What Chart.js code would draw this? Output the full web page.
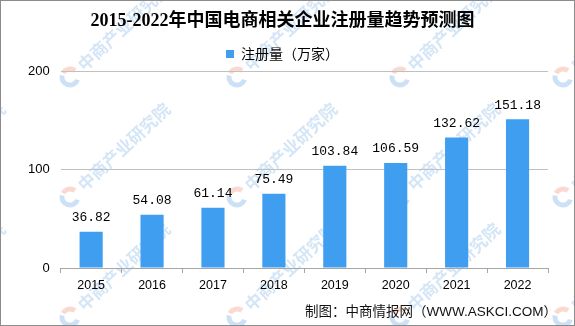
<!DOCTYPE html>
<html>
<head>
<meta charset="utf-8">
<script src="https://cdn.jsdelivr.net/npm/chart.js@4/dist/chart.umd.min.js"></script>
<style>
  html, body { margin: 0; padding: 0; background: #fff; }
  #wrap { width: 575px; height: 326px; }
</style>
</head>
<body>
<div id="wrap"><canvas id="chart" width="575" height="326"></canvas></div>
<script>
// data
const years = ['2015', '2016', '2017', '2018', '2019', '2020', '2021', '2022'];
const registrations = [36.82, 54.08, 61.14, 75.49, 103.84, 106.59, 132.62, 151.18];
const yTicks = [0, 100, 200];

const titleText = '2015-2022年中国电商相关企业注册量趋势预测图';
const seriesName = '注册量（万家）';
const footerText = '制图：中商情报网（WWW.ASKCI.COM）';
const watermarkText = '中商产业研究院';

const BAR_COLOR = '#3f9ef0';

// faint tiled watermark under the chart
const watermark = {
    id: 'watermark',
    beforeDraw(chart) {
        const ctx = chart.ctx;
        ctx.save();
        ctx.fillStyle = '#fff';
        ctx.fillRect(0, 0, chart.width, chart.height);
        const xs = [-95, 70, 237, 400, 563];
        const ys = [-43, 77, 197, 317];
        xs.forEach(x => ys.forEach(y => {
            ctx.save();
            ctx.translate(x, y);
            ctx.rotate(-43 * Math.PI / 180);
            // logo
            ctx.lineWidth = 5;
            ctx.strokeStyle = 'rgba(110,170,225,0.35)';
            ctx.beginPath();
            ctx.arc(0, 0, 8, Math.PI * 0.35, Math.PI * 1.3);
            ctx.stroke();
            ctx.strokeStyle = 'rgba(240,150,120,0.35)';
            ctx.beginPath();
            ctx.arc(0, 0, 8, Math.PI * 1.4, Math.PI * 1.95);
            ctx.stroke();
            // text
            ctx.font = 'bold 17px "Noto Sans CJK SC"';
            ctx.fillStyle = 'rgba(110,170,225,0.3)';
            ctx.textBaseline = 'middle';
            ctx.fillText(watermarkText, 14, 0);
            ctx.restore();
        }));
        ctx.restore();
    }
};

// value labels above bars
const valueLabels = {
    id: 'valueLabels',
    afterDatasetsDraw(chart) {
        const ctx = chart.ctx;
        const meta = chart.getDatasetMeta(0);
        ctx.save();
        ctx.font = '13px "Liberation Mono"';
        ctx.fillStyle = '#000';
        ctx.textAlign = 'center';
        ctx.textBaseline = 'middle';
        meta.data.forEach((bar, i) => {
            ctx.fillText(registrations[i].toFixed(2), bar.x, bar.y - 14);
        });
        ctx.restore();
    }
};

// source note + outer frame
const footer = {
    id: 'footer',
    afterDraw(chart) {
        const ctx = chart.ctx;
        ctx.save();
        ctx.font = '13.5px "Liberation Sans", "Noto Sans CJK SC"';
        ctx.fillStyle = '#111';
        ctx.textAlign = 'right';
        ctx.textBaseline = 'middle';
        ctx.fillText(footerText, 557, 312);
        ctx.strokeStyle = '#8c8c8c';
        ctx.lineWidth = 1;
        ctx.strokeRect(0.5, 0.5, chart.width - 1, chart.height - 1);
        ctx.restore();
    }
};

new Chart(document.getElementById('chart'), {
    type: 'bar',
    data: {
        labels: years,
        datasets: [{
            label: seriesName,
            data: registrations,
            backgroundColor: BAR_COLOR,
            borderWidth: 0,
            categoryPercentage: 1,
            barPercentage: 0.38
        }]
    },
    options: {
        responsive: false,
        animation: false,
        layout: { padding: { left: 17, right: 27, top: 0, bottom: 28 } },
        plugins: {
            title: {
                display: true,
                text: titleText,
                color: '#000',
                font: { family: '"Liberation Serif", "Noto Sans CJK SC"', size: 18, weight: 'bold' },
                padding: { top: 11, bottom: 7 }
            },
            legend: {
                position: 'top',
                labels: {
                    color: '#000',
                    font: { family: '"Noto Sans CJK SC"', size: 14 },
                    boxWidth: 8,
                    boxHeight: 8,
                    padding: 7.5
                }
            },
            tooltip: { enabled: false }
        },
        scales: {
            x: {
                grid: {
                    display: true,
                    drawOnChartArea: false,
                    drawTicks: true,
                    tickLength: 5,
                    color: '#a6a6a6'
                },
                border: { display: true, color: '#a6a6a6' },
                ticks: {
                    color: '#000',
                    padding: 5,
                    font: { family: '"Liberation Sans"', size: 12.5 }
                }
            },
            y: {
                min: 0,
                max: 200,
                afterBuildTicks: axis => { axis.ticks = yTicks.map(v => ({ value: v })); },
                grid: { color: '#c0c0c0', drawTicks: false },
                border: { display: false },
                ticks: {
                    color: '#000',
                    padding: 11,
                    font: { family: '"Liberation Sans"', size: 13 }
                }
            }
        }
    },
    plugins: [watermark, valueLabels, footer]
});
</script>
</body>
</html>
